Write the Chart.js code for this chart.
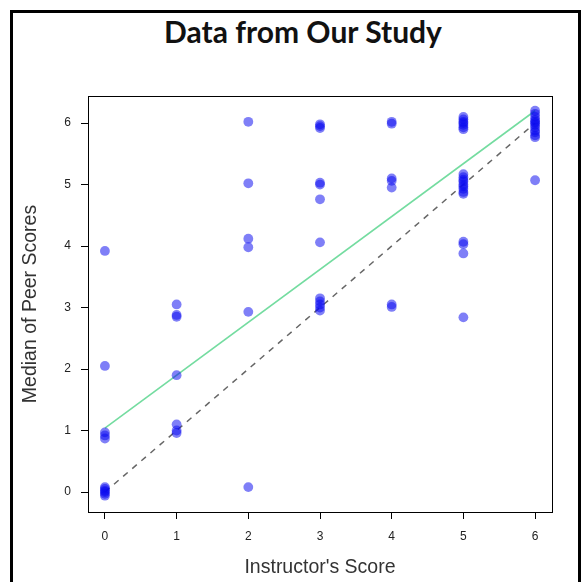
<!DOCTYPE html>
<html>
<head>
<meta charset="utf-8">
<script src="https://cdn.jsdelivr.net/npm/chart.js@4.4.1/dist/chart.umd.min.js"></script>
<style>
  html, body { margin: 0; padding: 0; background: #fff; }
  #wrap { position: relative; width: 581px; height: 582px; overflow: hidden; }
  #frame { position: absolute; left: 10px; top: 10px; width: 565px; height: 600px; border: 3px solid #000; border-bottom: none; }
  #title { position: absolute; left: 0; width: 606px; top: 13px; text-align: center; font: bold 30px Lato, sans-serif; color: #111; }
  #chart { position: absolute; left: 0; top: 0; }
</style>
</head>
<body>
<div id="wrap">
  <div id="frame"></div>
  <div id="title">Data from Our Study</div>
  <canvas id="chart" width="581" height="582"></canvas>
</div>
<script>
// instructor score levels and the jittered peer medians at each level
const scoreLevels = [0, 1, 2, 3, 4, 5, 6];
const peerAt0 = [3.92, 2.05, 0.97, 0.92, 0.87, 0.08, 0.05, 0.02, 0.0, -0.03, -0.06];
const peerAt1 = [3.05, 2.88, 2.85, 1.9, 1.1, 1.0, 0.96];
const peerAt2 = [6.02, 5.02, 4.12, 3.98, 2.93, 0.08];
const peerAt3 = [5.98, 5.95, 5.92, 5.03, 5.0, 4.76, 4.06, 3.15, 3.1, 3.05, 3.0, 2.95];
const peerAt4 = [6.02, 5.99, 5.1, 5.06, 4.95, 3.05, 3.01];
const peerAt5 = [6.1, 6.06, 6.02, 6.0, 5.97, 5.93, 5.9, 5.17, 5.12, 5.08, 5.05, 5.0, 4.97, 4.93, 4.88, 4.85, 4.07, 4.03, 3.88, 2.84];
const peerAt6 = [6.2, 6.15, 6.1, 6.05, 6.02, 6.0, 5.97, 5.93, 5.88, 5.85, 5.8, 5.77, 5.07];
const peerByLevel = [peerAt0, peerAt1, peerAt2, peerAt3, peerAt4, peerAt5, peerAt6];

// fitted line and the y = x reference
const fitX = [0, 6];
const fitY = [1.04, 6.2];
const refX = [0, 6];
const refY = [0, 6];
const tickValues = [0, 1, 2, 3, 4, 5, 6];

const points = [];
scoreLevels.forEach((s, i) => peerByLevel[i].forEach(v => points.push({ x: s, y: v })));

const boxPlugin = {
  id: 'box',
  afterDraw(chart) {
    const a = chart.chartArea;
    const ctx = chart.ctx;
    ctx.save();
    ctx.strokeStyle = '#000';
    ctx.lineWidth = 1;
    ctx.strokeRect(Math.round(a.left) + 0.5, Math.round(a.top) + 0.5, Math.round(a.right - a.left), Math.round(a.bottom - a.top));
    ctx.restore();
  }
};

const axisFont = { family: 'Liberation Sans, Arial, sans-serif', size: 12 };
const titleFont = { family: 'Liberation Sans, Arial, sans-serif', size: 19.5 };

new Chart(document.getElementById('chart'), {
  type: 'scatter',
  data: {
    datasets: [
      { data: points, backgroundColor: 'rgba(10,10,240,0.52)', borderWidth: 0, pointRadius: 4.9, order: 0 },
      { type: 'line', data: fitX.map((x, i) => ({ x, y: fitY[i] })), borderColor: '#74dca0', borderWidth: 1.6, pointRadius: 0, order: 1 },
      { type: 'line', data: refX.map((x, i) => ({ x, y: refY[i] })), borderColor: '#666', borderWidth: 1.5, borderDash: [6, 6], pointRadius: 0, order: 2 }
    ]
  },
  options: {
    responsive: false,
    animation: false,
    layout: { padding: { left: 0, right: 29, top: 96, bottom: 0 } },
    plugins: { legend: { display: false }, tooltip: { enabled: false } },
    scales: {
      x: {
        type: 'linear', min: -0.236, max: 6.236,
        afterFit(s) { s.height = 70; },
        afterBuildTicks(s) { s.ticks = tickValues.map(v => ({ value: v })); },
        grid: { drawOnChartArea: false, tickLength: 7, tickColor: '#000' },
        border: { display: true, color: '#000' },
        ticks: { font: axisFont, color: '#222', padding: 10, maxRotation: 0 },
        title: { display: true, text: "Instructor's Score", font: titleFont, color: '#333', padding: { bottom: 3 } }
      },
      y: {
        type: 'linear', min: -0.325, max: 6.44,
        afterFit(s) { s.width = 88; },
        afterBuildTicks(s) { s.ticks = tickValues.map(v => ({ value: v })); },
        grid: { drawOnChartArea: false, tickLength: 7, tickColor: '#000' },
        border: { display: true, color: '#000' },
        ticks: { font: axisFont, color: '#222', padding: 10 },
        title: { display: true, text: 'Median of Peer Scores', font: titleFont, color: '#333', padding: { top: 19 } }
      }
    }
  },
  plugins: [boxPlugin]
});
</script>
</body>
</html>
